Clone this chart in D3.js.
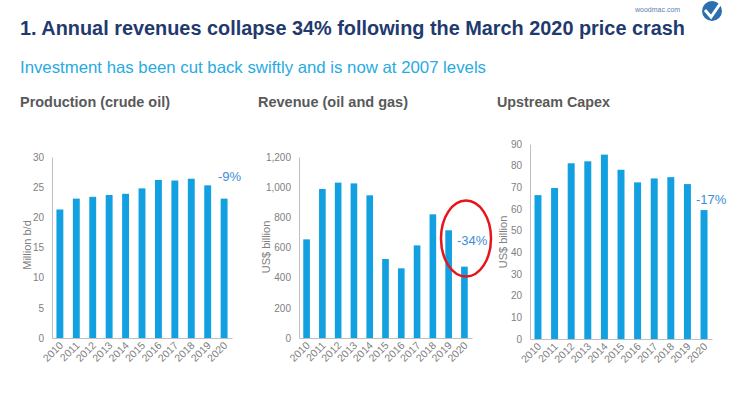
<!DOCTYPE html>
<html>
  <head>
    <meta charset="utf-8" />
    <title>woodmac revenues</title>
    <script src="https://cdn.jsdelivr.net/npm/d3@7"></script>
    <style type="text/css">
      body { margin: 0; background: #fff; }
      text { font-family: 'Liberation Sans Narrow', 'Liberation Sans', Arial, sans-serif; }
    </style>
  </head>
  <body>
    <svg id="chart" width="735" height="399"></svg>
    <script type="text/javascript">
      // data
      var years = ['2010', '2011', '2012', '2013', '2014', '2015', '2016', '2017', '2018', '2019', '2020'];
      var production = [21.3, 23.1, 23.4, 23.7, 23.9, 24.8, 26.2, 26.1, 26.4, 25.3, 23.1];
      var revenue = [654, 988, 1030, 1025, 946, 524, 462, 614, 820, 714, 473];
      var capex = [66.4, 69.7, 81.1, 82.0, 85.1, 78.1, 72.3, 74.1, 74.7, 71.5, 59.5];
      var prodTicks = [0, 5, 10, 15, 20, 25, 30];
      var revTicks = [0, 200, 400, 600, 800, 1000, 1200];
      var capexTicks = [0, 10, 20, 30, 40, 50, 60, 70, 80, 90];

      var svg = d3.select('#chart');
      var barColor = '#12a0e0';
      var grey = '#808080';

      // header
      svg.append('text').attr('x', 20).attr('y', 35)
        .attr('font-size', 20).attr('font-weight', 'bold').attr('fill', '#1f3a6e')
        .attr('textLength', 665).attr('lengthAdjust', 'spacingAndGlyphs')
        .text('1. Annual revenues collapse 34% following the March 2020 price crash');
      svg.append('text').attr('x', 20).attr('y', 73)
        .attr('font-size', 16.5).attr('fill', '#29aae1')
        .attr('textLength', 466).attr('lengthAdjust', 'spacingAndGlyphs')
        .text('Investment has been cut back swiftly and is now at 2007 levels');
      svg.append('text').attr('x', 635).attr('y', 12)
        .attr('font-size', 7).attr('fill', '#5b7fb0').text('woodmac.com');
      svg.append('circle').attr('cx', 712).attr('cy', 11).attr('r', 10).attr('fill', '#2c6fb0');
      svg.append('path').attr('d', 'M705,10 L711,17 L720,4')
        .attr('fill', 'none').attr('stroke', '#fff').attr('stroke-width', 3);

      // one bar panel
      function panel(o) {
        var g = svg.append('g');
        g.append('text').attr('x', o.titleX).attr('y', 107)
          .attr('font-size', 15.5).attr('font-weight', 'bold').attr('fill', '#595959')
          .attr('textLength', o.titleW).attr('lengthAdjust', 'spacingAndGlyphs')
          .text(o.title);

        var x = d3.scaleBand().domain(years).range([o.x0, o.x1])
          .paddingInner(0.58).paddingOuter(0.27);
        var y = d3.scaleLinear().domain([0, o.max]).range([o.y0, o.y1]);

        // y axis
        var ya = g.append('g').attr('transform', 'translate(' + o.x0 + ',0)')
          .call(d3.axisLeft(y).tickValues(o.ticks).tickSize(0).tickPadding(8).tickFormat(d3.format(',')));
        ya.select('.domain').attr('stroke', '#bfbfbf');
        ya.selectAll('text').attr('fill', grey).attr('font-size', 10)
          .style('font-family', "'Liberation Sans', Arial, sans-serif");

        // x axis
        var xa = g.append('g').attr('transform', 'translate(0,' + o.y0 + ')')
          .call(d3.axisBottom(x).tickSize(0).tickPadding(0));
        xa.select('.domain').attr('stroke', '#bfbfbf');
        xa.selectAll('text').attr('fill', grey).attr('font-size', 10.5)
          .style('font-family', "'Liberation Sans', Arial, sans-serif")
          .attr('text-anchor', 'end').attr('dy', 0).attr('y', 0)
          .attr('transform', 'translate(4,8) rotate(-45)');

        g.append('text')
          .attr('transform', 'translate(' + o.labelX + ',' + o.labelY + ') rotate(-90)')
          .attr('text-anchor', 'middle').attr('font-size', 11).attr('fill', grey)
          .style('font-family', "'Liberation Sans', Arial, sans-serif")
          .text(o.unit);

        g.selectAll('rect.bar').data(o.values).enter().append('rect')
          .attr('class', 'bar')
          .attr('x', function (d, i) { return x(years[i]); })
          .attr('width', x.bandwidth())
          .attr('y', function (d) { return y(d); })
          .attr('height', function (d) { return o.y0 - y(d); })
          .attr('fill', barColor);

        g.append('text').attr('x', o.pctX).attr('y', o.pctY)
          .attr('font-size', 13).attr('fill', '#3d8ed6')
          .style('font-family', "'Liberation Sans', Arial, sans-serif")
          .text(o.pct);
        return g;
      }

      panel({ title: 'Production (crude oil)', titleX: 20, titleW: 150, x0: 52, x1: 232, y0: 338, y1: 157,
        max: 30, ticks: prodTicks, values: production, unit: 'Million b/d', labelX: 31, labelY: 245,
        pct: '-9%', pctX: 218, pctY: 181 });
      panel({ title: 'Revenue (oil and gas)', titleX: 258, titleW: 150, x0: 299, x1: 472, y0: 338, y1: 157,
        max: 1200, ticks: revTicks, values: revenue, unit: 'US$ billion', labelX: 270, labelY: 247,
        pct: '-34%', pctX: 457, pctY: 245 });
      panel({ title: 'Upstream Capex', titleX: 497, titleW: 113, x0: 530, x1: 712, y0: 339, y1: 144,
        max: 90, ticks: capexTicks, values: capex, unit: 'US$ billion', labelX: 507, labelY: 242,
        pct: '-17%', pctX: 696, pctY: 204 });

      // red circle round the 2019-2020 drop
      svg.append('ellipse').attr('cx', 466).attr('cy', 238.5).attr('rx', 25).attr('ry', 38)
        .attr('fill', 'none').attr('stroke', '#e8141b').attr('stroke-width', 2.5);
    </script>
  </body>
</html>
